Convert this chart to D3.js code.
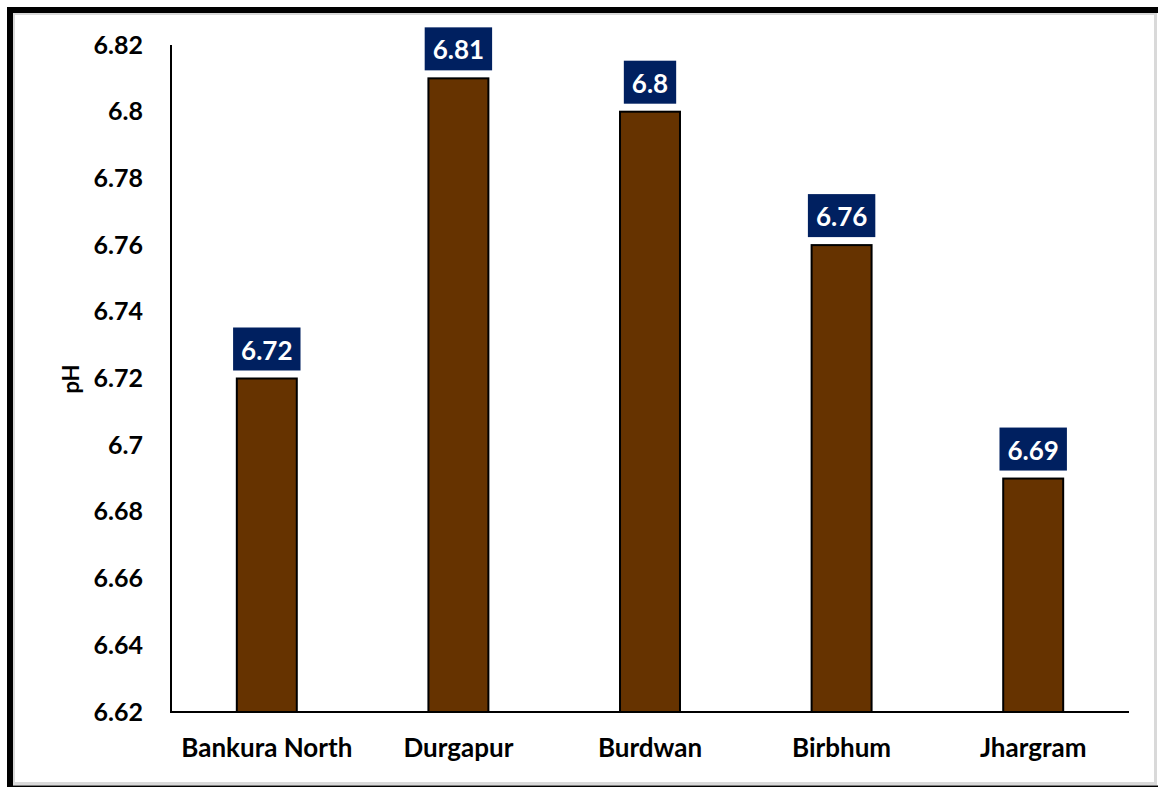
<!DOCTYPE html>
<html><head><meta charset="utf-8">
<script src="https://cdn.jsdelivr.net/npm/d3@7"></script>
<style>body{margin:0;background:#fff}svg{display:block}</style>
</head><body>
<svg id="c" width="1158" height="787"></svg>
<script>
const categories = ["Bankura North","Durgapur","Burdwan","Birbhum","Jhargram"];
const values = [6.72, 6.81, 6.80, 6.76, 6.69];
const valueLabels = ["6.72","6.81","6.8","6.76","6.69"];
const yTicks = [6.62,6.64,6.66,6.68,6.70,6.72,6.74,6.76,6.78,6.80,6.82];
const yTickLabels = ["6.62","6.64","6.66","6.68","6.7","6.72","6.74","6.76","6.78","6.8","6.82"];
const yLabel = "pH";

const font = "Lato, 'Open Sans', sans-serif";
const svg = d3.select("#c");
// frame
svg.append("rect").attr("x",13.5).attr("y",13.5).attr("width",1142).attr("height",770).attr("fill","#fff").attr("stroke","#d9d9d9").attr("stroke-width",3);
svg.append("path").attr("d","M10,787 L10,10 L1158,10").attr("fill","none").attr("stroke","#000").attr("stroke-width",6);
svg.append("line").attr("x1",10).attr("x2",1158).attr("y1",786.5).attr("y2",786.5).attr("stroke","#000").attr("stroke-width",2);

const x0 = 171, x1 = 1129, yTop = 45, yBot = 712;
const x = d3.scaleBand().domain(categories).range([x0,x1]).paddingInner(0.687).paddingOuter(0.3435);
const y = d3.scaleLinear().domain([6.62,6.82]).range([yBot,yTop]);

const g = svg.append("g");
// bars
g.selectAll("rect.bar").data(values).join("rect").attr("class","bar")
  .attr("x",(d,i)=>x(categories[i])).attr("width",x.bandwidth())
  .attr("y",d=>y(d)).attr("height",d=>yBot-y(d))
  .attr("fill","#663300").attr("stroke","#000").attr("stroke-width",2);

// axes
const yAxis = d3.axisLeft(y).tickValues(yTicks).tickFormat((d,i)=>yTickLabels[i]).tickSize(0).tickPadding(28);
const ya = svg.append("g").attr("transform",`translate(${x0},0)`).call(yAxis);
ya.select(".domain").remove();
ya.selectAll("text").attr("font-family",font).attr("font-weight","bold").attr("font-size",25).attr("fill","#000");
svg.append("line").attr("x1",x0).attr("x2",x0).attr("y1",yTop).attr("y2",yBot+1).attr("stroke","#000").attr("stroke-width",2);

const xAxis = d3.axisBottom(x).tickSize(0).tickPadding(27);
const xa = svg.append("g").attr("transform",`translate(0,${yBot})`).call(xAxis);
xa.select(".domain").remove();
xa.selectAll("text").attr("font-family",font).attr("font-weight","bold").attr("font-size",26).attr("fill","#000").attr("dy","0.71em");
svg.append("line").attr("x1",x0-1).attr("x2",x1).attr("y1",yBot).attr("y2",yBot).attr("stroke","#000").attr("stroke-width",2);

// y label
svg.append("text").attr("transform","translate(79,379) rotate(-90)").attr("text-anchor","middle")
  .attr("font-family",font).attr("font-weight","bold").attr("font-size",22).text(yLabel);

// data labels
const lbl = g.selectAll("g.lbl").data(values).join("g").attr("class","lbl")
  .attr("transform",(d,i)=>`translate(${x(categories[i])+x.bandwidth()/2},${y(d)-8})`);
lbl.each(function(d,i){
  const s = d3.select(this);
  const t = s.append("text").attr("text-anchor","middle")
    .attr("font-family",font).attr("font-weight","bold").attr("font-size",26).attr("fill","#fff")
    .attr("dominant-baseline","central").text(valueLabels[i]);
  const w = t.node().getComputedTextLength();
  s.insert("rect","text").attr("x",-w/2-8).attr("y",-43).attr("width",w+16).attr("height",43).attr("fill","#002060");
  t.attr("y",-21);
});
</script>
</body></html>
